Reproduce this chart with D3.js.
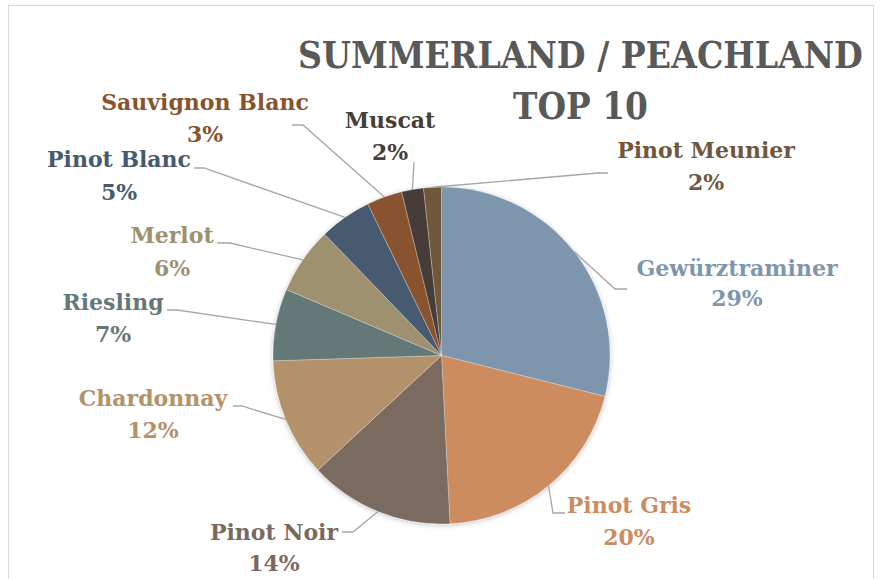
<!DOCTYPE html>
<html>
<head>
<meta charset="utf-8">
<script src="https://cdn.jsdelivr.net/npm/d3@7"></script>
<style>
  html, body { margin: 0; padding: 0; background: #fff; }
  svg { display: block; }
</style>
</head>
<body>
<svg id="chart" width="880" height="579"></svg>
<script>
// ---- data ----
const categories = ["Gewürztraminer", "Pinot Gris", "Pinot Noir", "Chardonnay", "Riesling",
                    "Merlot", "Pinot Blanc", "Sauvignon Blanc", "Muscat", "Pinot Meunier"];
const values = [28.9, 20.3, 13.9, 11.4, 6.9, 6.4, 5.0, 3.4, 2.1, 1.7];
const percentLabels = ["29%", "20%", "14%", "12%", "7%", "6%", "5%", "3%", "2%", "2%"];
const titleLines = ["SUMMERLAND / PEACHLAND", "TOP 10"];

// ---- styles / layout ----
const colors = ["#7E96AD", "#CC8C5F", "#7A6A5E", "#B3916A", "#657878",
                "#9D916F", "#465A6F", "#88532D", "#473E38", "#6F583B"];
// label anchor (center x, first baseline y) and leader elbow points (label side)
const labelLayout = [
  { x: 737, y: 276, dy: 30, leader: [[627, 289], [615, 289]] },
  { x: 629, y: 513, dy: 32, leader: [[565, 513], [553, 513]] },
  { x: 274, y: 540, dy: 31, leader: [[342, 532], [353, 532]] },
  { x: 153, y: 406, dy: 32, leader: [[233, 406], [242, 406]] },
  { x: 113, y: 310, dy: 32, leader: [[167, 310], [177, 310]] },
  { x: 172, y: 243, dy: 33, leader: [[217, 243], [230, 243]] },
  { x: 119, y: 167, dy: 33, leader: [[194, 168], [204, 168]] },
  { x: 205, y: 110, dy: 32, leader: [[292, 125], [303, 125]] },
  { x: 390, y: 128, dy: 32, leader: [[414, 162]] },
  { x: 706, y: 158, dy: 32, leader: [[608, 173], [598, 173]] }
];

const svg = d3.select("#chart");
const cx = 441.5, cy = 355.5, r = 168.5;

// border
svg.append("rect")
  .attr("x", 8.5).attr("y", 5.5)
  .attr("width", 865).attr("height", 600)
  .attr("fill", "#fff")
  .attr("stroke", "#D9D9D9").attr("stroke-width", 1);

// shadow filter
const defs = svg.append("defs");
const f = defs.append("filter").attr("id", "shadow")
  .attr("x", "-20%").attr("y", "-20%").attr("width", "140%").attr("height", "140%");
f.append("feDropShadow").attr("dx", 0).attr("dy", 1).attr("stdDeviation", 2.5)
  .attr("flood-color", "#000").attr("flood-opacity", 0.25);

// title (horizontally condensed to match the narrow reference face)
const titleCx = 580.5;
const titleWidths = [565, 135];
titleLines.forEach((t, i) => {
  const tg = svg.append("g");
  const txt = tg.append("text")
    .attr("x", 0).attr("y", 0)
    .attr("text-anchor", "middle")
    .attr("font-family", "'DejaVu Serif', serif")
    .attr("font-weight", "bold")
    .attr("font-size", 38)
    .attr("fill", "#595959")
    .text(t);
  const w = txt.node().getComputedTextLength();
  const sx = Math.min(1, titleWidths[i] / w);
  tg.attr("transform", `translate(${titleCx},${68 + i * 51}) scale(${sx},1)`);
});

// pie
const pie = d3.pie().sort(null).value(d => d).startAngle(0).endAngle(2 * Math.PI);
const arcs = pie(values);
const arc = d3.arc().innerRadius(0).outerRadius(r);

const g = svg.append("g").attr("transform", `translate(${cx},${cy})`);
g.append("g").attr("filter", "url(#shadow)")
  .selectAll("path")
  .data(arcs)
  .enter().append("path")
  .attr("d", arc)
  .attr("fill", (d, i) => colors[i])
  .attr("stroke", "rgba(255,255,255,0.45)")
  .attr("stroke-width", 0.6);

// leader lines
const line = d3.line();
arcs.forEach((d, i) => {
  const a = (d.startAngle + d.endAngle) / 2;
  const end = [cx + r * Math.sin(a), cy - r * Math.cos(a)];
  const pts = labelLayout[i].leader.concat([end]);
  svg.append("path")
    .attr("d", line(pts))
    .attr("fill", "none")
    .attr("stroke", "#A6A6A6")
    .attr("stroke-width", 1.3);
});

// labels
arcs.forEach((d, i) => {
  const L = labelLayout[i];
  const t = svg.append("text")
    .attr("text-anchor", "middle")
    .attr("font-family", "'DejaVu Serif', serif")
    .attr("font-weight", "bold")
    .attr("font-size", 22)
    .attr("fill", colors[i]);
  t.append("tspan").attr("x", L.x).attr("y", L.y).text(categories[i]);
  t.append("tspan").attr("x", L.x).attr("y", L.y + L.dy).text(percentLabels[i]);
});
</script>
</body>
</html>
